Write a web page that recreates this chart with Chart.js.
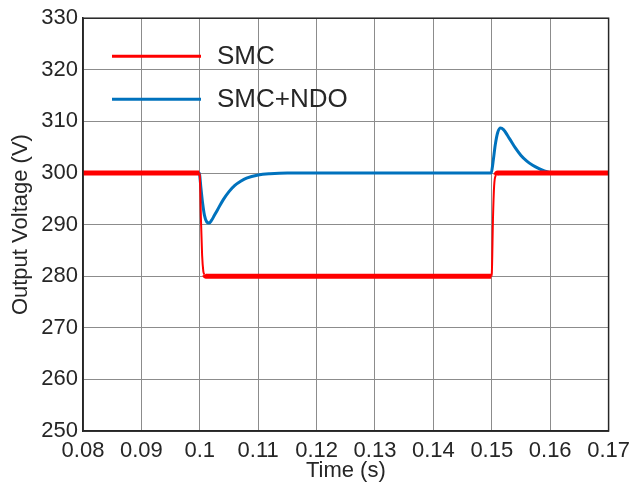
<!DOCTYPE html>
<html>
<head>
<meta charset="utf-8">
<script src="https://cdn.jsdelivr.net/npm/chart.js@4.4.1/dist/chart.umd.min.js"></script>
<style>
  html, body { margin: 0; padding: 0; background: #fff; }
  #wrap { width: 637px; height: 489px; }
</style>
</head>
<body>
<div id="wrap"><canvas id="voltChart"></canvas></div>
<script>
// series names
const seriesNames = ['SMC', 'SMC+NDO'];

// SMC output voltage (time in s, voltage in V)
const smcTime = [0.08, 0.0999, 0.1, 0.1002, 0.1004, 0.1006, 0.1008, 0.101, 0.12, 0.1499, 0.15, 0.1502, 0.1504, 0.1507, 0.151, 0.17];
const smcVolt = [300, 300, 299.5, 291, 284, 281, 280.3, 280, 280, 280, 280.5, 291, 297.5, 299.6, 300, 300];

// SMC+NDO output voltage
const ndoTime = [0.08, 0.0999, 0.1002, 0.1005, 0.1008, 0.1012, 0.1016, 0.102, 0.1025, 0.103, 0.104, 0.105, 0.106, 0.107, 0.108, 0.11, 0.112, 0.115, 0.13,
                 0.1499, 0.1502, 0.1506, 0.151, 0.1515, 0.152, 0.153, 0.154, 0.155, 0.156, 0.157, 0.158, 0.159, 0.16, 0.17];
const ndoVolt = [300, 300, 297, 294, 291.8, 290.5, 290.3, 290.8, 291.8, 292.8, 294.8, 296.4, 297.6, 298.4, 299, 299.6, 299.85, 300, 300,
                 300, 302, 305.5, 307.8, 308.7, 308.4, 306.7, 304.9, 303.4, 302.3, 301.5, 300.9, 300.4, 300.1, 300];

// axis ranges and ticks
const xTicks = [0.08, 0.09, 0.1, 0.11, 0.12, 0.13, 0.14, 0.15, 0.16, 0.17];
const yTicks = [250, 260, 270, 280, 290, 300, 310, 320, 330];

const lineColors = ['#ff0000', '#0072bd'];
const textColor = '#262626';
const gridColor = '#8c8c8c';
const fontFamily = '"Liberation Sans", Arial, sans-serif';

function pairUp(xs, ys) {
    return xs.map(function (x, i) { return { x: x, y: ys[i] }; });
}

// the noisy SMC trace is thick on flat parts but thin on the fast jumps
function smcWidth(seg) {
    const dx = Math.abs(seg.p1.x - seg.p0.x);
    const dy = Math.abs(seg.p1.y - seg.p0.y);
    return dy > 3 * dx ? 2 : undefined;
}

// legend drawn inside the plot area, upper-left, no box; plus the top/right frame
const insideLegend = {
    id: 'insideLegend',
    afterDatasetsDraw: function (chart) {
        const c = chart.ctx;
        const area = chart.chartArea;
        c.save();
        chart.data.datasets.forEach(function (ds, i) {
            const y = area.top + 38 + i * 43;
            c.strokeStyle = ds.borderColor;
            c.lineWidth = 3;
            c.beginPath();
            c.moveTo(area.left + 29, y);
            c.lineTo(area.left + 118, y);
            c.stroke();
            c.fillStyle = textColor;
            c.font = '26px ' + fontFamily;
            c.textBaseline = 'middle';
            c.fillText(ds.label, area.left + 134, y + 1);
        });
        c.restore();
    },
    afterDraw: function (chart) {
        const c = chart.ctx;
        const a = chart.chartArea;
        c.save();
        c.strokeStyle = textColor;
        c.lineWidth = 1.5;
        c.strokeRect(a.left, a.top, a.right - a.left, a.bottom - a.top);
        c.restore();
    }
};

const ctx = document.getElementById('voltChart').getContext('2d');

new Chart(ctx, {
    type: 'line',
    data: {
        datasets: [{
            label: seriesNames[0],
            data: pairUp(smcTime, smcVolt),
            borderColor: lineColors[0],
            borderWidth: 5,
            pointRadius: 0,
            cubicInterpolationMode: 'monotone',
            segment: { borderWidth: smcWidth }
        }, {
            label: seriesNames[1],
            data: pairUp(ndoTime, ndoVolt),
            borderColor: lineColors[1],
            borderWidth: 3,
            pointRadius: 0,
            cubicInterpolationMode: 'monotone'
        }]
    },
    options: {
        responsive: true,
        maintainAspectRatio: false,
        animation: false,
        layout: { padding: { top: 17, right: 27, left: 0, bottom: 0 } },
        plugins: {
            legend: { display: false },
            tooltip: { enabled: false }
        },
        scales: {
            x: {
                type: 'linear',
                min: 0.08,
                max: 0.17,
                afterBuildTicks: function (axis) {
                    axis.ticks = xTicks.map(function (v) { return { value: v }; });
                },
                afterFit: function (axis) { axis.height = 58; },
                ticks: {
                    color: textColor,
                    font: { family: fontFamily, size: 22 },
                    padding: 7,
                    maxRotation: 0,
                    autoSkip: false,
                    callback: function (v) { return String(parseFloat(v.toFixed(2))); }
                },
                grid: { color: gridColor, lineWidth: 1, tickLength: 0 },
                border: { color: textColor, width: 1.5 },
                title: {
                    display: true,
                    text: 'Time (s)',
                    color: textColor,
                    font: { family: fontFamily, size: 22 },
                    padding: { top: 0, bottom: 5 }
                }
            },
            y: {
                type: 'linear',
                min: 250,
                max: 330,
                afterBuildTicks: function (axis) {
                    axis.ticks = yTicks.map(function (v) { return { value: v }; });
                },
                afterFit: function (axis) { axis.width = 83; },
                ticks: {
                    color: textColor,
                    font: { family: fontFamily, size: 22 },
                    padding: 5,
                    autoSkip: false
                },
                grid: { color: gridColor, lineWidth: 1, tickLength: 0 },
                border: { color: textColor, width: 1.5 },
                title: {
                    display: true,
                    text: 'Output Voltage (V)',
                    color: textColor,
                    font: { family: fontFamily, size: 22 },
                    padding: { top: 8, bottom: 0 }
                }
            }
        }
    },
    plugins: [insideLegend]
});
</script>
</body>
</html>
